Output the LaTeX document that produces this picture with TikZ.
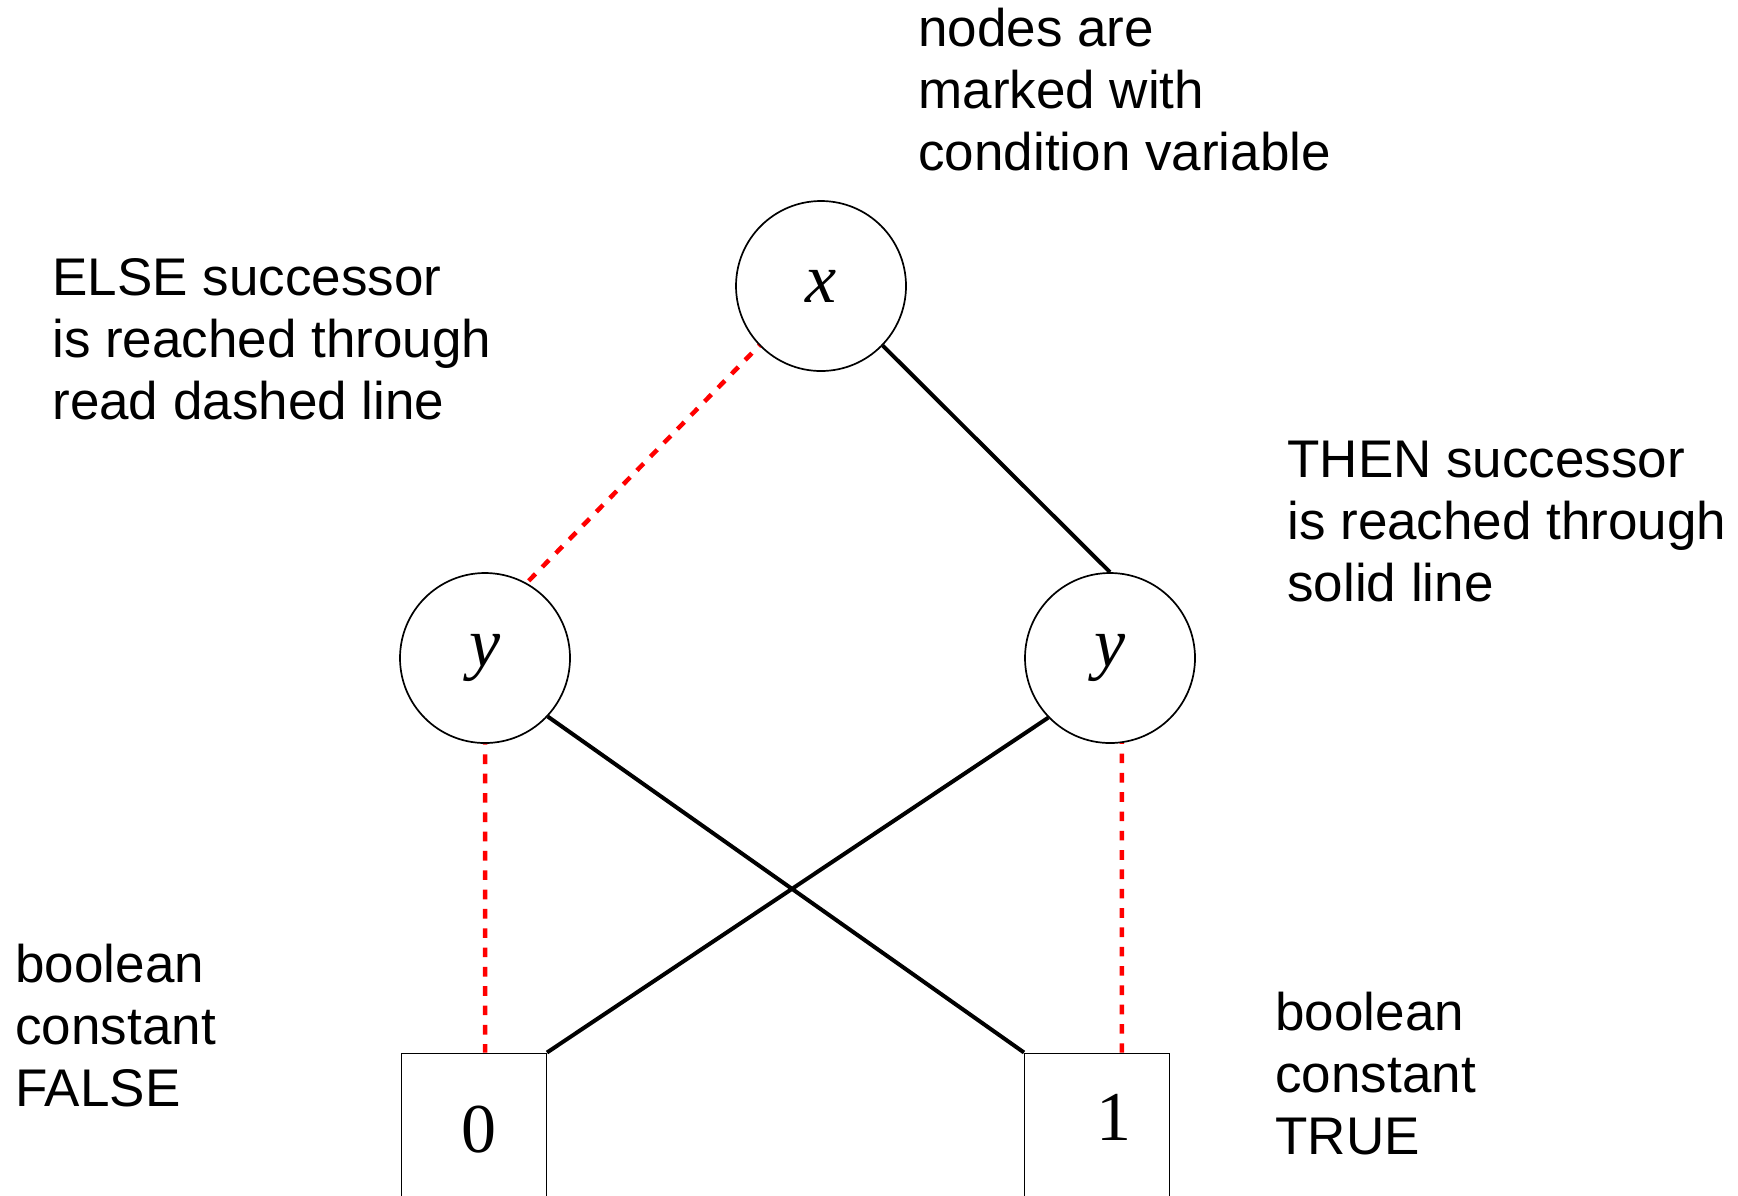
\documentclass[tikz,border=0pt]{standalone}
\usepackage{fontspec}
\setmainfont{Liberation Sans}
\newfontfamily\varfont{Liberation Serif}
\usetikzlibrary{
    automata,
    positioning
}

\begin{document}
\begin{tikzpicture}[x=0.5pt, y=-0.5pt,
    var/.style={state, minimum size=85pt, inner sep=0pt, line width=0.85pt, font=\varfont\itshape\fontsize{35}{35}\selectfont},
    const/.style={draw, rectangle, minimum width=72.5pt, minimum height=75pt, line width=0.5pt, text height=24pt, text depth=0pt, font=\varfont\fontsize{35}{35}\selectfont},
    note/.style={anchor=north west, inner sep=0pt, align=left, font=\fontsize{26.5}{31}\selectfont},
    thenline/.style={line width=2pt},
    elseline/.style={red, line width=2.25pt, dash pattern=on 4.83pt off 4.83pt, dash phase=4.4pt}]
                                \useasboundingbox (0, 0) rectangle (1738, 1195);
                                \clip (0, 0) rectangle (1738, 1195);
                                \node[note] (cond) at (918, 8) {nodes are\\marked with\\condition variable};
                                \node[note] (els) at (52, 258) {ELSE successor\\is reached through\\read dashed line};
                                \node[note] (thn) at (1287, 441) {THEN successor\\is reached through\\solid line};
                                \node[note] (fls) at (15, 944) {boolean\\constant\\FALSE};
                                \node[note] (tru) at (1275, 992) {boolean\\constant\\TRUE};
                                \node[var] (x) at (821, 286) {x};
                                \node[var] (ly) at (485, 658) {y};
                                \node[var] (ry) at (1110, 658) {y};
                                \node[const] (zero) at (474, 1128) {\hspace*{4.5pt}0};
                                \node[const] (one) at (1097, 1128) {\hspace*{17pt}\raisebox{6pt}{1}};
                                \draw[elseline]
                                (x.-136) -- (ly.61)
                                (ly.south) -- (ly.south |- zero.north)
                                (ry.-82) -- (ry.-82 |- one.north);
                                \draw[thenline]
                                (x.-44) -- (ry.north)
                                (ly.-43.5) -- (one.north west)
                                (ry.-136.5) -- (zero.north east);
                            \end{tikzpicture}
\end{document}
